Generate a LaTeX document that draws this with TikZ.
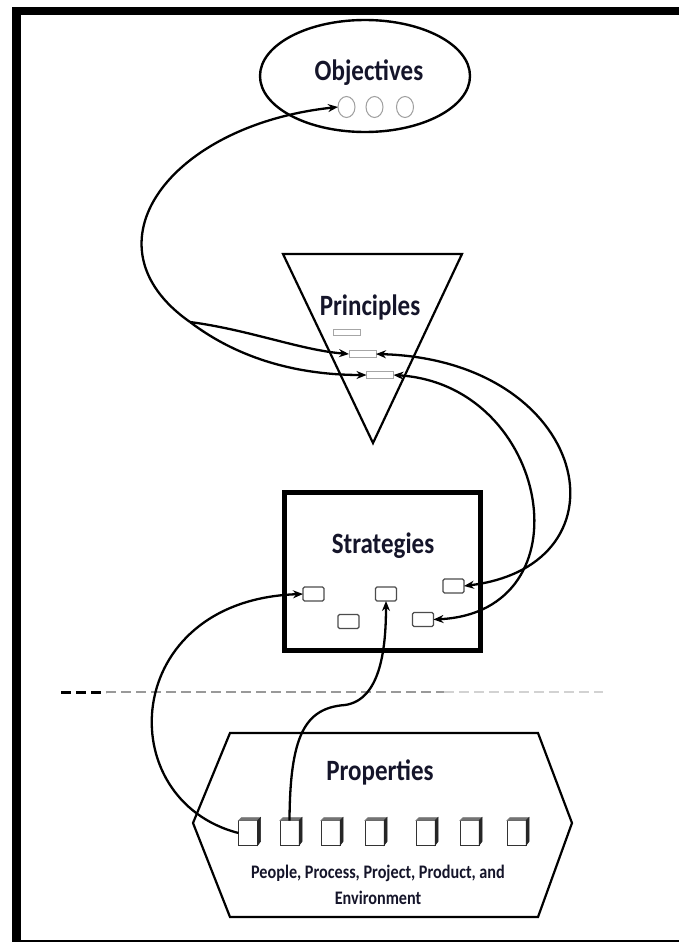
\documentclass[tikz,border=0pt]{standalone}
\usepackage{fontspec}
\usepackage{graphicx}
\setmainfont{Carlito}
\usetikzlibrary{shapes.geometric,arrows.meta}
\definecolor{ink}{HTML}{15152A}
\newcommand{\tallx}[1]{\scalebox{1}[1.18]{#1}}
\begin{document}
\begin{tikzpicture}[x=1pt,y=-1pt,
  every node/.style={inner sep=0pt, outer sep=0pt},
  ttl/.style={font=\fontsize{25}{28}\selectfont\bfseries, text=ink},
  conn/.style={line width=2.3pt, draw=black},
  tipend/.style={-{Stealth[length=10pt,width=8pt]}},
  tipboth/.style={{Stealth[length=10pt,width=8pt]}-{Stealth[length=10pt,width=8pt]}},
  prect/.style={draw=gray!70, line width=1pt, minimum width=27pt, minimum height=6.5pt},
  srect/.style={draw=black!70, line width=1.1pt, rounded corners=1.5pt, minimum width=21pt, minimum height=14pt},
  dotc/.style={draw=gray!75, line width=1pt, ellipse, minimum width=17pt, minimum height=21pt},
  pbox/.style={draw=black!80, fill=white, line width=0.9pt, minimum width=19pt, minimum height=25pt},
]
\useasboundingbox (0,0) rectangle (679,942);
\clip (0,0) rectangle (679,942);
\fill[white] (0,0) rectangle (679,942);
\draw[line width=8.5pt] (16.5,11) rectangle (700,944);

% Objectives
\node[draw, ellipse, line width=2.4pt, minimum width=210pt, minimum height=112pt] (obj) at (365,76) {};
\node[ttl] (objt) at (369,73) {\tallx{Objectives}};
\node[dotc] (o1) at (346.5,107) {};
\node[dotc] (o2) at (374.5,107) {};
\node[dotc] (o3) at (405,107) {};

% Principles
\coordinate (tl) at (283,254);
\coordinate (tr) at (462,254);
\coordinate (tb) at (373,443);
\draw[line width=2.2pt] (tl) -- (tr) -- (tb) -- cycle;
\node[ttl] (prt) at (370,307) {\tallx{Principles}};
\node[prect] (r1) at (346.5,332.5) {};
\node[prect] (r2) at (362.5,354) {};
\node[prect] (r3) at (380,375) {};

% Strategies
\node[draw, line width=5pt, minimum width=196pt, minimum height=158pt] (strat) at (382.5,571.5) {};
\node[ttl] (stt) at (383,546) {\tallx{Strategies}};
\node[srect] (s1) at (313.5,594) {};
\node[srect] (s2) at (386,594) {};
\node[srect] (s3) at (453.5,586) {};
\node[srect] (s4) at (423,619.5) {};
\node[srect] (s5) at (348.5,621.5) {};

% dashed divider
\coordinate (d0) at (61,692);
\coordinate (d1) at (106,692);
\coordinate (d2) at (444,692);
\coordinate (d3) at (603,692);
\draw[line width=3pt, dash pattern=on 10pt off 5pt] (d0) -- (d1);
\draw[line width=2.5pt, gray!80, dash pattern=on 10pt off 5pt] (d1) -- (d2);
\draw[line width=2.5pt, gray!35, dash pattern=on 10pt off 5pt] (d2) -- (d3);

% Properties
\draw[line width=2.2pt] (230,733) -- (538,733) -- (572,823) -- (538,917) -- (230,917) -- (193,823) -- cycle;
\node[ttl] (ppt) at (380,772) {\tallx{Properties}};
\node[font=\fontsize{16.2}{26}\selectfont\bfseries, text=ink, align=center] (plab) at (378,885) {\tallx{People, Process, Project, Product, and}\\\tallx{Environment}};
\foreach \i/\x in {1/248,2/289.5,3/330.5,4/374.5,5/425.5,6/469.5,7/516.5} {
  \node[pbox] (pb\i) at (\x,833) {};
  \filldraw[black!55, line width=0.5pt] (pb\i.north west) -- ++(3,-3) -- ++(19,0) -- (pb\i.north east) -- cycle;
  \filldraw[black!85, line width=0.5pt] (pb\i.north east) -- ++(3,-3) -- ++(0,24) -- (pb\i.south east) -- cycle;
}

% connectors
\coordinate (bp) at (190,322);
\draw[conn, tipend] (bp) .. controls (80,245) and (170,125) .. (o1.west);
\draw[conn, tipend] (bp) .. controls (250,330) and (300,350) .. (r2.west);
\draw[conn, tipend] (bp) .. controls (240,360) and (300,375) .. (r3.west);
\draw[conn, tipboth] (r2.east) .. controls (590,360) and (635,565) .. (s3.east);
\draw[conn, tipboth] (r3.east) .. controls (550,385) and (590,612) .. (s4.east);
\draw[conn, tipend] (pb1.west) .. controls (110,800) and (120,600) .. (s1.west);
\draw[conn, tipend] (pb2.north) .. controls (290,735) and (305,708) .. (345,705) .. controls (380,700) and (386,650) .. (s2.south);
\end{tikzpicture}
\end{document}
